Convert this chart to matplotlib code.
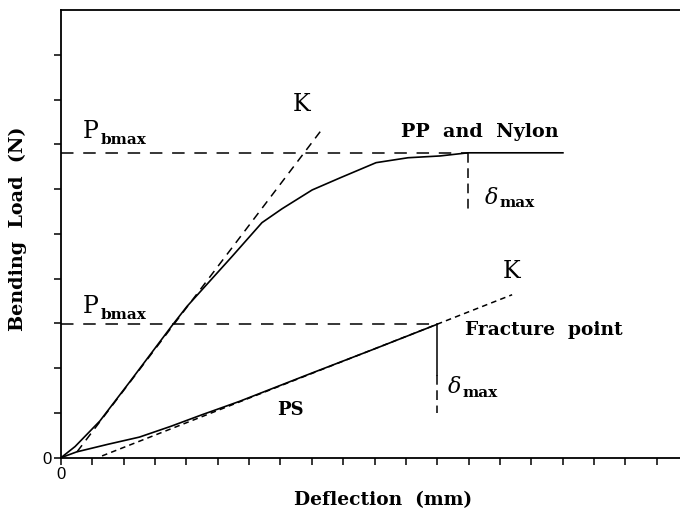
import matplotlib
matplotlib.use("Agg")
import matplotlib.pyplot as plt

plt.rcParams["lines.scale_dashes"] = False

# Load–deflection curves (deflection in tick units, load in tick units)
pp_x = [0, 0.45, 1.24, 2.2, 3.54, 4.02, 5.45, 6.41, 7.05, 8.01, 8.9, 10.05, 11.07, 12.09, 12.98, 16.01]
pp_y = [0, 0.25, 0.82, 1.70, 2.95, 3.38, 4.49, 5.25, 5.56, 5.98, 6.25, 6.59, 6.7, 6.74, 6.81, 6.81]

ps_x = [0, 0.5, 1.5, 2.5, 3.5, 4.5, 5.7, 8.0, 10.0, 12.0]
ps_y = [0, 0.13, 0.3, 0.46, 0.7, 0.96, 1.26, 1.89, 2.43, 2.98]

# Initial stiffness (K) tangent lines
k_pp_x = [0.51, 8.33]
k_pp_y = [0.13, 7.34]
k_ps_x = [1.31, 14.39]
k_ps_y = [0.04, 3.64]

# Maximum load / deflection markers
pbmax_pp = 6.81
pbmax_ps = 2.98
dmax_pp = 12.98
dmax_ps = 12.0
dmax_pp_low = 5.48
ps_drop_low = 1.84
dmax_ps_low = 0.99

x_ticks = list(range(0, 20))
y_ticks = list(range(0, 10))

W, H = 680, 512
fig = plt.figure(figsize=(W / 100, H / 100), dpi=100)
ax = fig.add_axes([61 / W, (H - 457.7) / H, (W - 61) / W, (457.7 - 10) / H])
ax.set_xlim(0, 619 / 31.35)
ax.set_ylim(0, 10)

for side in ("left", "bottom", "top"):
    ax.spines[side].set_linewidth(1.3)
ax.spines["right"].set_visible(False)

ax.set_xticks(x_ticks)
ax.set_xticklabels(["0"] + [""] * (len(x_ticks) - 1))
ax.set_yticks(y_ticks)
ax.set_yticklabels(["0"] + [""] * (len(y_ticks) - 1))
ax.tick_params(direction="out", length=5, width=1.1, labelsize=12, pad=2)
for lab in ax.get_xticklabels() + ax.get_yticklabels():
    lab.set_family("Liberation Sans")

black = "black"
lw = 1.2

# Curves
ax.plot(pp_x, pp_y, color=black, lw=lw)
ax.plot(ps_x, ps_y, color=black, lw=lw)

# Stiffness tangents
ax.plot(k_pp_x, k_pp_y, color=black, lw=1.1, dashes=(6, 4.5))
ax.plot(k_ps_x, k_ps_y, color=black, lw=1.1, dashes=(4, 3))

# Maximum load lines
ax.plot([0, dmax_pp], [pbmax_pp, pbmax_pp], color=black, lw=1.1, dashes=(9, 7))
ax.plot([0, dmax_ps], [pbmax_ps, pbmax_ps], color=black, lw=1.1, dashes=(9, 7))

# Deflection at maximum load
ax.plot([dmax_pp, dmax_pp], [pbmax_pp, dmax_pp_low], color=black, lw=1.1, dashes=(7, 4))
ax.plot([dmax_ps, dmax_ps], [pbmax_ps, ps_drop_low], color=black, lw=1.1)
ax.plot([dmax_ps, dmax_ps], [ps_drop_low, dmax_ps_low], color=black, lw=1.1, dashes=(7, 4))

serif = "DejaVu Serif"


def sub_label(x, y, main, sub, main_size=17, sub_size=11, main_style="normal",
              main_weight="normal", dy=-3):
    t = ax.text(x, y, main, family=serif, fontsize=main_size, style=main_style,
                weight=main_weight, ha="left", va="baseline")
    ax.annotate(sub, xy=(1, 0), xycoords=t, xytext=(1, dy),
                textcoords="offset points", family=serif, fontsize=sub_size,
                weight="bold", ha="left", va="bottom")


sub_label(0.70, 7.14, "P", "bmax")
sub_label(0.70, 3.24, "P", "bmax")
sub_label(13.52, 5.67, "δ", "max", main_size=16, sub_size=11, main_style="italic", dy=-1)
sub_label(12.34, 1.44, "δ", "max", main_size=16, sub_size=11, main_style="italic", dy=-1)

ax.text(7.40, 7.74, "K", family=serif, fontsize=17, ha="left", va="baseline")
ax.text(14.10, 4.02, "K", family=serif, fontsize=17, ha="left", va="baseline")

ax.text(10.86, 7.16, "PP  and  Nylon", family=serif, fontsize=13.8, weight="bold",
        ha="left", va="baseline")
ax.text(12.89, 2.73, "Fracture  point", family=serif, fontsize=13.4, weight="bold",
        ha="left", va="baseline")
ax.text(6.89, 0.95, "PS", family=serif, fontsize=13, weight="bold",
        ha="left", va="baseline")

fig.text(383 / W, 1 - 505 / H, "Deflection  (mm)", family=serif, fontsize=13.4,
         weight="bold", ha="center", va="baseline")
fig.text(18 / W, 1 - 229 / H, "Bending  Load  (N)", family=serif, fontsize=13.8,
         weight="bold", ha="center", va="center", rotation=90)

fig.savefig("out.png", dpi=100)
